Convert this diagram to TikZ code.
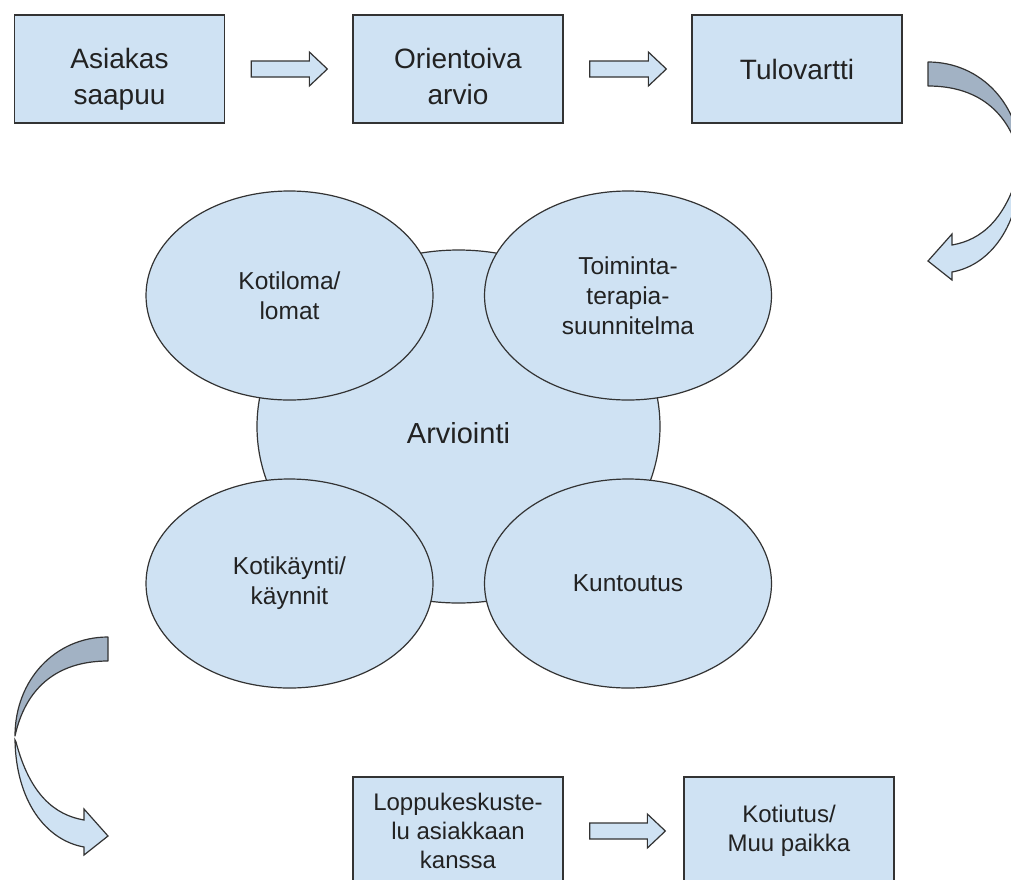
\documentclass[tikz,border=0pt]{standalone}
\usepackage{fontspec}
\setmainfont{Liberation Sans}
\usetikzlibrary{shapes.geometric,calc}
\definecolor{boxfill}{HTML}{CFE2F3}
\definecolor{darkfill}{HTML}{A2B2C4}
\definecolor{edge}{HTML}{333333}
\definecolor{txt}{HTML}{222222}
\newcommand\curvedflow{%
  \filldraw[darkpart] (108,637) .. controls (55,637) and (15,680) .. (15,736)
    .. controls (25,690) and (55,661) .. (108,661) -- cycle;
  \filldraw[lightpart] (15,740) .. controls (16,800) and (45,840) .. (84,847)
    -- (84,855) -- (108,836) -- (84,809) -- (84,820)
    .. controls (55,815) and (30,795) .. (16,742) -- cycle;}
\newcommand\blockarr[2]{%
  \draw[barrow] ($(#1)+(0,-8)$) -- ($(#2)+(-18,-8)$) -- ($(#2)+(-18,-17)$) -- (#2)
    -- ($(#2)+(-18,17)$) -- ($(#2)+(-18,8)$) -- ($(#1)+(0,8)$) -- cycle;}
\begin{document}
\begin{tikzpicture}[x=1pt,y=-1pt,
  stepbox/.style={draw=edge, line width=1.3pt, fill=boxfill, minimum width=210pt,
    minimum height=108pt, inner sep=0pt, align=center, text=txt},
  topfont/.style={font=\fontsize{28}{36}\selectfont},
  twoline/.style={text height=76pt, text depth=6pt},
  botfont/.style={font=\fontsize{24}{29}\selectfont},
  oval/.style={ellipse, draw=edge, line width=1.2pt, fill=boxfill, minimum width=287pt,
    minimum height=209pt, inner sep=0pt, align=center, text=txt,
    font=\fontsize{24.5}{30}\selectfont},
  bigoval/.style={ellipse, draw=edge, line width=1.2pt, fill=boxfill, minimum width=403pt,
    minimum height=353pt, inner sep=0pt, text=txt, font=\fontsize{29}{34}\selectfont,
    text height=33pt, text depth=0pt},
  barrow/.style={draw=edge, line width=1.2pt, fill=boxfill, line join=miter},
  darkpart/.style={draw=edge, line width=1.2pt, fill=darkfill, line join=round},
  lightpart/.style={draw=edge, line width=1.2pt, fill=boxfill, line join=miter}]
\useasboundingbox (0,0) rectangle (1011,879);
\clip (0,0) rectangle (1011,879);
\fill[white] (0,0) rectangle (1011,879);

% top row
\node[stepbox, topfont, twoline] (b1) at (119.5,69) {Asiakas\\saapuu};
\node[stepbox, topfont, twoline] (b2) at (458,69) {Orientoiva\\arvio};
\node[stepbox, topfont] (b3) at (797,69) {Tulovartti};
\coordinate (a1s) at ($(b1.east)+(26,0)$);
\coordinate (a1e) at ($(b2.west)+(-25,0)$);
\coordinate (a2s) at ($(b2.east)+(26,0)$);
\coordinate (a2e) at ($(b3.west)+(-25,0)$);
\blockarr{a1s}{a1e}
\blockarr{a2s}{a2e}

% centre cluster
\node[bigoval] (arv) at (458.5,426.5) {Arviointi};
\node[oval] (kot) at (289.5,295.5) {Kotiloma/\\lomat};
\node[oval] (toi) at (628,295.5) {Toiminta-\\terapia-\\suunnitelma};
\node[oval] (kay) at (289.5,583.5) {Kotikäynti/\\käynnit};
\node[oval] (kun) at (628,583.5) {Kuntoutus};

% bottom row
\node[stepbox, botfont] (b4) at (458,831) {Loppukeskuste-\\lu asiakkaan\\kanssa};
\node[stepbox, botfont] (b5) at (789,831) {Kotiutus/\\Muu paikka};
\coordinate (a3s) at ($(b4.east)+(26,0)$);
\coordinate (a3e) at ($(b5.west)+(-18,0)$);
\blockarr{a3s}{a3e}

% curved flow arrows
\begin{scope}
  \curvedflow
\end{scope}
\begin{scope}[shift={(1036,-575)}, xscale=-1]
  \curvedflow
\end{scope}
\end{tikzpicture}
\end{document}
